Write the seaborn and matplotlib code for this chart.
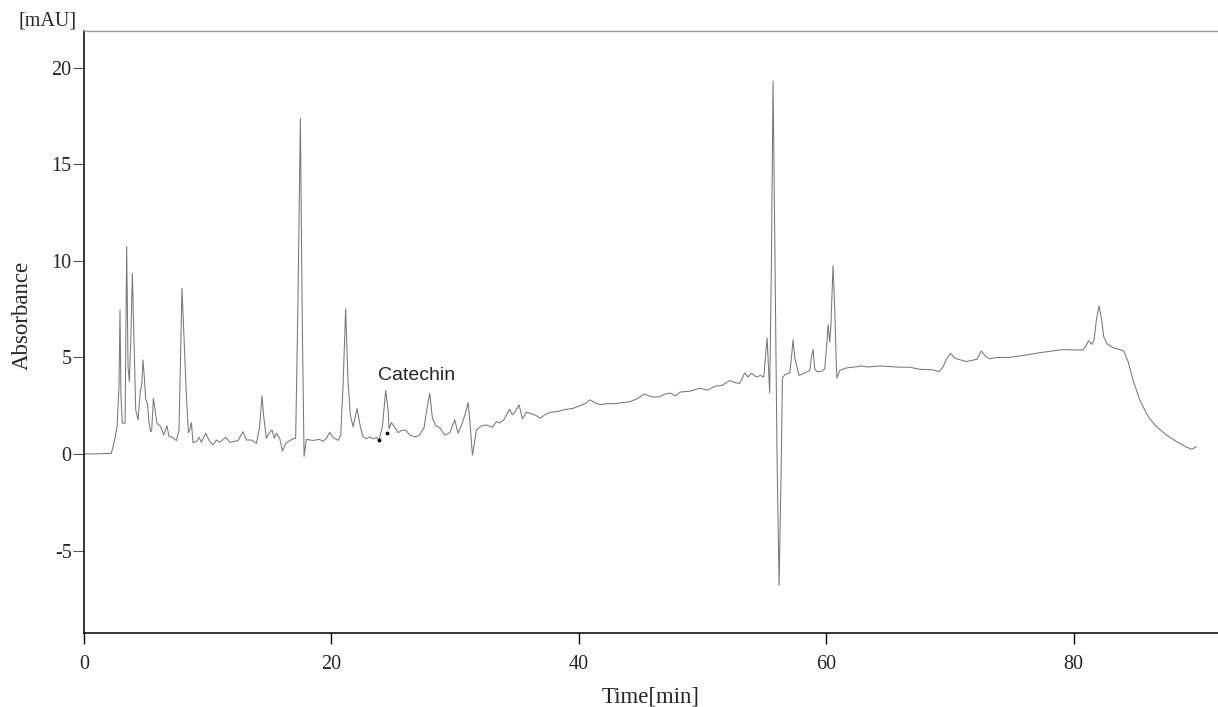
import numpy as np
import pandas as pd
import seaborn as sns
import matplotlib
import matplotlib.pyplot as plt

sns.set_theme(style="white")
plt.rcParams['font.family'] = ['Liberation Serif', 'DejaVu Serif']
plt.rcParams['axes.unicode_minus'] = False

# Chromatogram trace (time in min, absorbance in mAU)
time_min = [
    0.0, 1.0, 2.21, 2.48, 2.67, 2.83, 2.91, 2.99, 3.10, 3.32, 3.45, 3.56, 3.67, 3.78, 3.91,
    4.04, 4.18, 4.37, 4.56, 4.66, 4.77, 4.91, 4.99, 5.13, 5.26, 5.39, 5.47, 5.61, 5.74, 5.90,
    6.20, 6.44, 6.71, 6.87, 7.15, 7.47, 7.68, 7.92, 8.08, 8.28, 8.44, 8.55, 8.68, 8.81, 9.09,
    9.30, 9.49, 9.84, 10.16, 10.43, 10.70, 10.97, 11.46, 11.78, 12.45, 12.85, 13.13, 13.53,
    13.94, 14.20, 14.39, 14.53, 14.74, 14.96, 15.20, 15.39, 15.55, 15.82, 16.04, 16.31, 16.63,
    16.90, 17.11, 17.30, 17.49, 17.65, 17.79, 17.97, 18.51, 19.05, 19.32, 19.59, 19.86, 20.13,
    20.54, 20.75, 20.94, 21.15, 21.34, 21.53, 21.75, 22.07, 22.34, 22.55, 22.83, 23.10, 23.37,
    23.64, 23.85, 24.12, 24.39, 24.58, 24.66, 24.85, 25.12, 25.39, 25.66, 26.00, 26.33, 26.73,
    27.08, 27.49, 27.68, 27.95, 28.16, 28.43, 28.76, 29.16, 29.57, 29.97, 30.24, 30.51, 30.86,
    31.05, 31.18, 31.40, 31.50, 31.72, 32.13, 32.53, 33.01, 33.34, 33.60, 33.93, 34.41, 34.63,
    34.82, 35.17, 35.44, 35.76, 36.05, 36.50, 36.90, 37.30, 37.70, 38.30, 38.90, 39.50, 40.10,
    40.50, 40.90, 41.30, 41.70, 42.30, 42.90, 43.50, 44.10, 44.70, 45.30, 45.90, 46.50, 47.00,
    47.40, 47.80, 48.20, 49.00, 49.80, 50.40, 51.00, 51.60, 52.20, 52.60, 53.00, 53.41, 53.68,
    53.95, 54.36, 54.68,
    54.95, 55.22, 55.33, 55.43, 55.57, 55.70, 55.86, 56.02, 56.19, 56.35, 56.46, 56.65, 57.05,
    57.19, 57.32, 57.45, 57.80, 58.26, 58.67, 58.80, 58.94, 59.07, 59.26, 59.61, 59.88, 60.07,
    60.15, 60.28, 60.37, 60.55, 60.69, 60.82, 60.87, 61.09, 61.63, 62.30, 62.84, 63.38, 64.33,
    65.94, 66.75, 67.56, 68.63, 69.12, 69.44, 69.72, 70.04, 70.40, 71.33, 72.19, 72.54, 72.89,
    73.22, 73.76, 74.84, 76.18, 77.26, 78.34, 79.14, 79.95, 80.76, 81.00, 81.20, 81.46, 81.65,
    81.84, 82.05, 82.27, 82.43, 82.70, 83.19, 83.73, 84.05, 84.40, 84.80, 85.34, 86.02, 86.69,
    87.50, 88.31, 89.12, 89.55, 89.93,
]
absorbance = [
    0.0, 0.0, 0.03, 0.72, 1.41, 3.48, 7.45, 2.97, 1.59, 1.59, 10.73, 4.52, 3.74, 5.90, 9.35,
    5.90, 2.28, 1.76, 3.31, 3.48, 4.87, 3.66, 2.80, 2.62, 1.59, 1.15, 1.20, 2.88, 2.28, 1.59,
    1.41, 0.98, 1.45, 0.90, 0.86, 0.69, 1.24, 8.57, 6.07, 2.97, 1.10, 1.24, 1.62, 0.59, 0.64,
    0.86, 0.60, 1.07, 0.64, 0.47, 0.72, 0.60, 0.86, 0.60, 0.69, 1.15, 0.72, 0.72,
    0.55, 1.41, 3.00, 1.93, 0.81, 1.07, 1.24, 0.81, 1.07, 0.81, 0.15, 0.55, 0.69,
    0.78, 0.80, 8.00, 17.37, 6.50, -0.13, 0.75, 0.70, 0.75, 0.65, 0.80, 1.12, 0.85,
    0.70, 0.95, 3.50, 7.50, 3.80, 2.00, 1.41, 2.35, 1.41, 0.90, 0.78, 0.88, 0.78,
    0.85, 0.71, 1.41, 3.28, 2.28, 1.30, 1.62, 1.38, 1.10, 1.21, 1.24, 0.98, 0.88,
    0.95, 1.35, 2.19, 3.14, 1.86, 1.47, 1.35, 0.98, 1.09, 1.76, 1.07, 1.47, 2.16,
    2.66, 1.80, -0.05, 0.30, 1.24, 1.45, 1.50, 1.38, 1.67, 1.60, 1.76, 2.31, 2.02,
    2.16, 2.54, 1.81, 2.16, 2.10, 2.00, 1.85, 2.05, 2.15, 2.20, 2.30, 2.35, 2.50,
    2.60, 2.80, 2.65, 2.55, 2.60, 2.60, 2.65, 2.70, 2.85, 3.10, 2.95, 2.95, 3.10,
    3.15, 3.00, 3.20, 3.25, 3.40, 3.30, 3.50, 3.55, 3.80, 3.70, 3.64, 4.19, 3.98,
    4.17, 3.98, 4.06,
    3.98, 6.00, 4.50, 3.15, 10.00, 19.30, 10.00, 0.00, -6.80, -1.00, 3.93, 4.10, 4.19,
    5.00, 5.90, 5.00, 4.06, 4.19, 4.32, 5.00, 5.41, 4.40, 4.25, 4.27, 4.40, 5.90,
    6.69, 5.80, 6.50, 9.75, 7.50, 4.50, 3.93, 4.32, 4.45, 4.50, 4.55, 4.50, 4.55,
    4.49, 4.49, 4.38, 4.35, 4.26, 4.50, 4.90, 5.21, 4.95, 4.78, 4.90, 5.33, 5.04,
    4.92, 4.99, 5.00, 5.12, 5.24, 5.33, 5.40, 5.38, 5.38, 5.60, 5.85, 5.67, 5.90,
    6.94, 7.66, 6.94, 6.07, 5.70, 5.50, 5.40, 5.33, 4.78, 3.83, 2.80, 1.93, 1.41,
    0.98, 0.64, 0.35, 0.24, 0.38,
]

# integration marks around the catechin peak
mark_time = [23.85, 24.50]
mark_abs = [0.71, 1.10]

peak_label = "Catechin"
peak_label_pos = (23.75, 4.05)

x_ticks = [0, 20, 40, 60, 80]
y_ticks = [-5, 0, 5, 10, 15, 20]

df = pd.DataFrame({"time": time_min, "abs": absorbance})

fig = plt.figure(figsize=(12.18, 7.07), dpi=100)
ax = fig.add_axes([84 / 1218, 74 / 707, 1134 / 1218, 602 / 707])

sns.lineplot(data=df, x="time", y="abs", ax=ax, color="#777777", linewidth=0.75,
             estimator=None, sort=False)
ax.scatter(mark_time, mark_abs, s=3, color="black", zorder=3)

ax.text(peak_label_pos[0], peak_label_pos[1], peak_label, ha="left", va="center",
        fontsize=14, family=["Liberation Sans", "DejaVu Sans"])

ax.set_xlim(0, 91.67)
ax.set_ylim(-9.27, 21.89)
ax.set_xticks(x_ticks)
ax.set_yticks(y_ticks)
ax.set_xticklabels([str(v) for v in x_ticks])
ax.set_yticklabels([str(v) for v in y_ticks])

ax.tick_params(axis="x", bottom=True, direction="out", length=8, width=1,
               color="black", labelsize=14.5, pad=8)
ax.tick_params(axis="y", left=True, direction="out", length=8, width=0.8,
               color="#555555", labelsize=14.5, pad=1)

for side in ["left", "bottom"]:
    ax.spines[side].set_color("black")
    ax.spines[side].set_linewidth(1.1)
ax.spines["top"].set_color("#9a9a9a")
ax.spines["top"].set_linewidth(1.0)
ax.spines["right"].set_visible(False)

ax.set_xlabel("Time[min]", fontsize=16.5, labelpad=9)
ax.set_ylabel("Absorbance", fontsize=16.5)
ax.yaxis.set_label_coords(-0.045, 0.528)

fig.text(77 / 1218, 1 - 21 / 707, "[mAU]", ha="right", va="center", fontsize=14.5)

fig.savefig("out.png", dpi=100)
